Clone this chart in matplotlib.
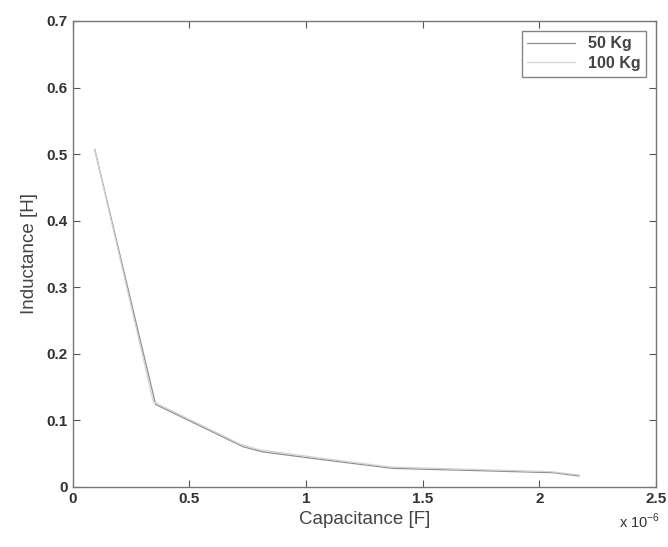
import matplotlib.pyplot as plt

plt.rcParams['font.family'] = ['Liberation Sans', 'DejaVu Sans']

# capacitance in units of 1e-6 F, inductance in H
cap_50 = [0.094, 0.355, 0.73, 0.81, 1.06, 1.37, 2.06, 2.17]
ind_50 = [0.507, 0.124, 0.0605, 0.053, 0.0415, 0.028, 0.0215, 0.0165]

cap_100 = [0.094, 0.345, 0.72, 0.80, 1.05, 1.36, 2.05, 2.17]
ind_100 = [0.507, 0.128, 0.064, 0.056, 0.044, 0.030, 0.023, 0.018]

fig = plt.figure(figsize=(6.68, 5.47), dpi=100)
ax = fig.add_axes([0.109, 0.1097, 0.873, 0.852])

ax.plot(cap_50, ind_50, color='#8e8e8e', lw=0.9, label='50 Kg')
ax.plot(cap_100, ind_100, color='#d2d2d2', lw=0.9, label='100 Kg')

ax.set_xlim(0, 2.5)
ax.set_ylim(0, 0.7)
ax.set_xticks([0, 0.5, 1, 1.5, 2, 2.5])
ax.set_xticklabels(['0', '0.5', '1', '1.5', '2', '2.5'])
ax.set_yticks([0, 0.1, 0.2, 0.3, 0.4, 0.5, 0.6, 0.7])
ax.set_yticklabels(['0', '0.1', '0.2', '0.3', '0.4', '0.5', '0.6', '0.7'])

ax.tick_params(direction='in', top=True, right=True, length=5, width=0.8,
               colors='#555555', labelcolor='#333333', labelsize=11)
for lbl in ax.get_xticklabels() + ax.get_yticklabels():
    lbl.set_fontweight('bold')
for s in ax.spines.values():
    s.set_color('#777777')
    s.set_linewidth(1.0)

ax.set_xlabel('Capacitance [F]', fontsize=13.5, color='#444444', labelpad=4)
ax.set_ylabel('Inductance [H]', fontsize=13.5, color='#444444', labelpad=6)
fig.text(0.958, 0.035, r'x 10$^{\mathregular{-6}}$', fontsize=10.5,
         color='#333333', ha='center')

leg = ax.legend(loc='upper right', fontsize=11.5, frameon=True, fancybox=False,
                edgecolor='#666666', borderpad=0.35, handlelength=3.0,
                labelspacing=0.3, borderaxespad=0.6)
for t in leg.get_texts():
    t.set_fontweight('bold')
    t.set_color('#444444')
leg.get_frame().set_linewidth(1.0)

fig.savefig('out.png', dpi=100)
